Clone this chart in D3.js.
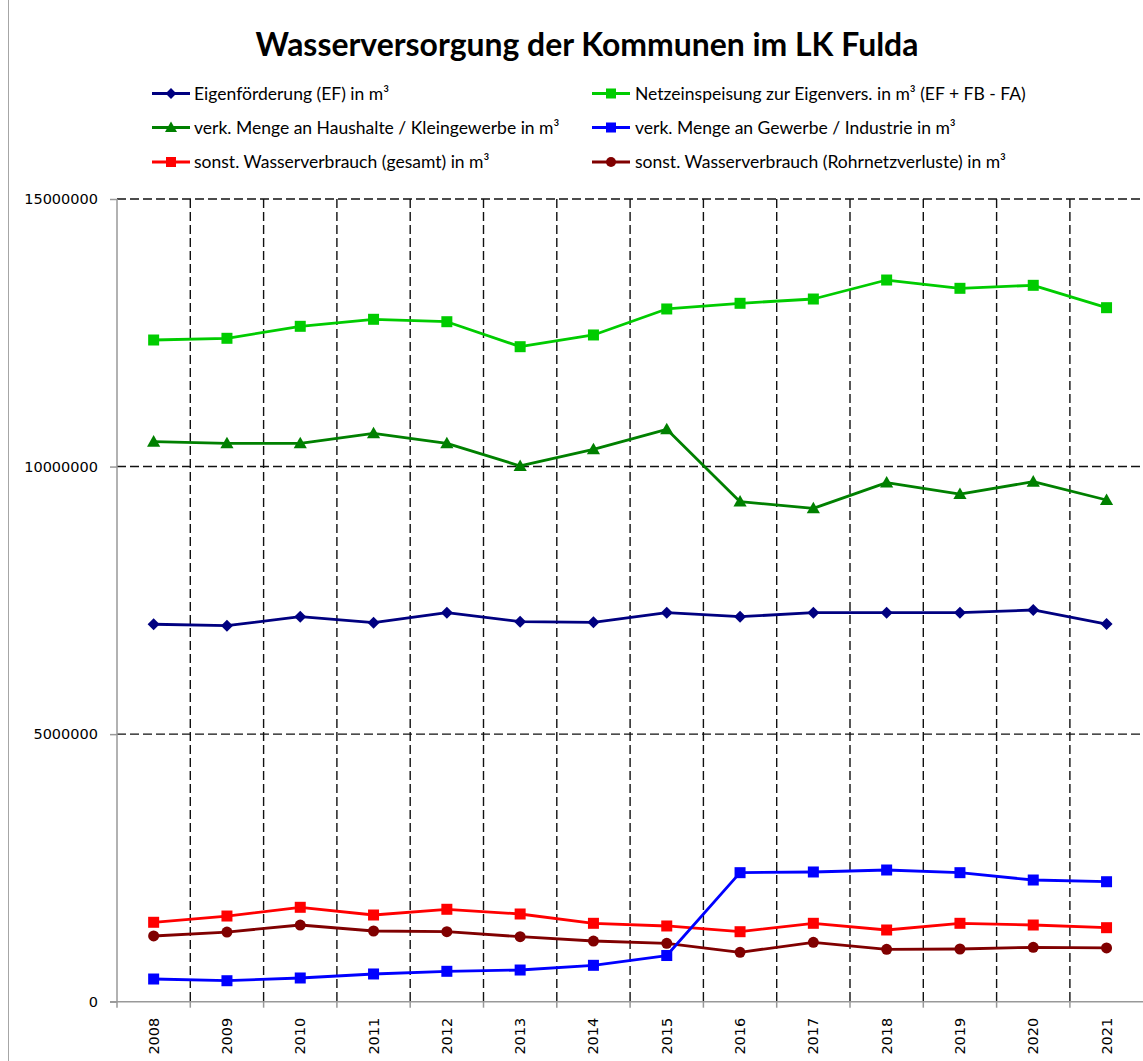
<!DOCTYPE html>
<html>
<head>
<meta charset="utf-8">
<script src="https://cdn.jsdelivr.net/npm/d3@7"></script>
<style>
  html, body { margin: 0; padding: 0; background: #fff; }
  svg { display: block; }
</style>
</head>
<body>
<svg id="chart" width="1143" height="1061"></svg>
<script>
// ---------- data ----------
const years = ["2008","2009","2010","2011","2012","2013","2014","2015","2016","2017","2018","2019","2020","2021"];
const eigenfoerderung = [7053000,7026000,7194000,7082000,7269000,7101000,7090000,7269000,7194000,7269000,7269000,7269000,7320000,7058000];
const netzeinspeisung = [12365000,12397000,12621000,12752000,12707000,12240000,12459000,12945000,13051000,13131000,13486000,13331000,13387000,12969000];
const haushalte = [10465000,10435000,10435000,10622000,10435000,10011000,10323000,10696000,9344000,9220000,9699000,9487000,9717000,9375000];
const gewerbe = [424000,392000,443000,518000,568000,592000,680000,863000,2411000,2424000,2461000,2411000,2274000,2242000];
const sonstGesamt = [1484000,1601000,1764000,1620000,1727000,1639000,1465000,1415000,1308000,1465000,1340000,1465000,1433000,1383000];
const rohrnetz = [1228000,1302000,1433000,1321000,1308000,1215000,1134000,1091000,923000,1110000,979000,985000,1017000,1004000];
const yTicks = [0, 5000000, 10000000, 15000000];
const titleText = "Wasserversorgung der Kommunen im LK Fulda";

const series = [
  {name: "Eigenförderung (EF) in m³", values: eigenfoerderung, color: "#000080", marker: "diamond", col: 0, row: 0},
  {name: "Netzeinspeisung zur Eigenvers. in m³ (EF + FB - FA)", values: netzeinspeisung, color: "#00CC00", marker: "square", col: 1, row: 0},
  {name: "verk. Menge an Haushalte / Kleingewerbe in m³", values: haushalte, color: "#008000", marker: "triangle", col: 0, row: 1},
  {name: "sonst. Wasserverbrauch (gesamt) in m³", values: sonstGesamt, color: "#FF0000", marker: "square", col: 0, row: 2},
  {name: "sonst. Wasserverbrauch (Rohrnetzverluste) in m³", values: rohrnetz, color: "#800000", marker: "circle", col: 1, row: 2},
  {name: "verk. Menge an Gewerbe / Industrie in m³", values: gewerbe, color: "#0000FF", marker: "square", col: 1, row: 1}
];

// ---------- layout ----------
const svg = d3.select("#chart");
const plot = {left: 117, right: 1143.2, top: 199, bottom: 1001.7};
const x = d3.scaleBand().domain(years).range([plot.left, plot.right]).padding(0);
const y = d3.scaleLinear().domain([0, 15000000]).range([plot.bottom, plot.top]);
const cx = d => x(d) + x.bandwidth() / 2;

// outer border
svg.append("rect").attr("x", 8.5).attr("y", -2).attr("width", 1200).attr("height", 1100)
  .attr("fill", "none").attr("stroke", "#a6a6a6").attr("stroke-width", 1);

// title (fit width)
const title = svg.append("text").attr("x", 587).attr("y", 56).attr("text-anchor", "middle")
  .attr("font-family", "Lato, 'Liberation Sans', sans-serif").attr("font-weight", "bold")
  .attr("font-size", 30).attr("fill", "#000").text(titleText);
{
  const w = title.node().getComputedTextLength();
  title.attr("font-size", 30 * 663 / w);
}

// gridlines
const grid = svg.append("g");
grid.selectAll("line.h").data(yTicks.filter(t => t > 0)).join("line")
  .attr("x1", plot.left).attr("x2", plot.right)
  .attr("y1", d => y(d)).attr("y2", d => y(d))
  .attr("stroke", "#111").attr("stroke-width", 1.4).attr("stroke-dasharray", "9,4");
grid.selectAll("line.v").data(years.slice(1)).join("line")
  .attr("x1", d => x(d)).attr("x2", d => x(d))
  .attr("y1", plot.top).attr("y2", plot.bottom)
  .attr("stroke", "#111").attr("stroke-width", 1.4).attr("stroke-dasharray", "9,4");

// y axis
const yAxis = svg.append("g").attr("transform", `translate(${plot.left},0)`)
  .call(d3.axisLeft(y).tickValues(yTicks).tickFormat(d3.format("d")).tickSize(7).tickPadding(12));
yAxis.select(".domain").attr("stroke", "#999").attr("stroke-width", 1.5)
  .attr("d", `M0,${plot.top}V${plot.bottom}`);
yAxis.selectAll(".tick line").attr("stroke", "#999").attr("stroke-width", 1.5);
yAxis.selectAll(".tick text").attr("font-family", "'DejaVu Sans', sans-serif").attr("font-size", 14.5).attr("fill", "#000");

// x axis
const xAxisG = svg.append("g").attr("transform", `translate(0,${plot.bottom})`);
xAxisG.append("line").attr("x1", plot.left - 7).attr("x2", plot.right)
  .attr("y1", 0).attr("y2", 0).attr("stroke", "#999").attr("stroke-width", 1.5);
xAxisG.selectAll("line.tk").data(years).join("line")
  .attr("x1", d => x(d)).attr("x2", d => x(d)).attr("y1", 0).attr("y2", 6)
  .attr("stroke", "#999").attr("stroke-width", 1.5);
xAxisG.selectAll("text").data(years).join("text")
  .attr("transform", d => `translate(${cx(d) + 5},16) rotate(-90)`)
  .attr("text-anchor", "end")
  .attr("font-family", "'DejaVu Sans', sans-serif").attr("font-size", 14.5).attr("fill", "#000")
  .text(d => d);

// markers
function drawMarker(g, type, color, size) {
  const s = size;
  if (type === "diamond") {
    g.append("path").attr("d", `M0,${-s*0.6}L${s*0.6},0L0,${s*0.6}L${-s*0.6},0Z`).attr("fill", color);
  } else if (type === "square") {
    g.append("rect").attr("x", -s/2).attr("y", -s/2).attr("width", s).attr("height", s).attr("fill", color);
  } else if (type === "triangle") {
    g.append("path").attr("d", `M0,${-s*0.6}L${s*0.6},${s*0.45}L${-s*0.6},${s*0.45}Z`).attr("fill", color);
  } else if (type === "circle") {
    g.append("circle").attr("r", s/2).attr("fill", color);
  }
}

// series lines
const line = d3.line().x((d, i) => cx(years[i])).y(d => y(d));
const drawOrder = [0, 1, 2, 4, 3, 5];
drawOrder.forEach(k => {
  const s = series[k];
  const g = svg.append("g");
  g.append("path").datum(s.values).attr("d", line)
    .attr("fill", "none").attr("stroke", s.color).attr("stroke-width", 2.8).attr("stroke-linejoin", "round");
  s.values.forEach((v, i) => {
    const mg = g.append("g").attr("transform", `translate(${cx(years[i])},${y(v)})`);
    drawMarker(mg, s.marker, s.color, s.marker === "diamond" ? 10 : 11);
  });
});

// legend
const legCols = [{lx1: 152, lx2: 190, tx: 194}, {lx1: 592, lx2: 630, tx: 635}];
const legRows = [93.5, 127.5, 162];
const legend = svg.append("g");
const legTexts = [];
series.forEach(s => {
  const c = legCols[s.col], ry = legRows[s.row];
  const g = legend.append("g");
  g.append("line").attr("x1", c.lx1).attr("x2", c.lx2).attr("y1", ry).attr("y2", ry)
    .attr("stroke", s.color).attr("stroke-width", 2.8);
  const mg = g.append("g").attr("transform", `translate(${(c.lx1 + c.lx2) / 2},${ry})`);
  drawMarker(mg, s.marker, s.color, s.marker === "diamond" ? 9 : 10);
  const t = g.append("text").attr("x", c.tx).attr("y", ry).attr("dy", "0.36em")
    .attr("font-family", "Lato, 'Liberation Sans', sans-serif").attr("font-size", 16)
    .attr("fill", "#000").text(s.name);
  legTexts.push(t);
});
{
  const ref = legTexts[1];
  const w = ref.node().getComputedTextLength();
  const fs = 16 * 391 / w;
  legTexts.forEach(t => t.attr("font-size", fs));
}
</script>
</body>
</html>
